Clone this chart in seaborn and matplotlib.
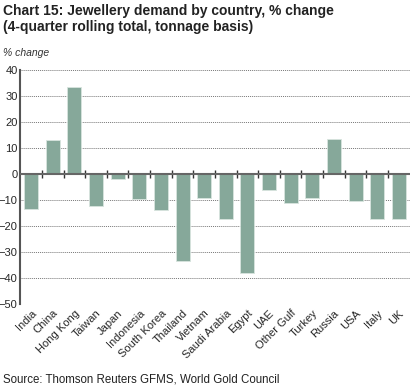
import numpy as np
import pandas as pd
import matplotlib
matplotlib.use('Agg')
import matplotlib.pyplot as plt
import seaborn as sns

countries = ['India', 'China', 'Hong Kong', 'Taiwan', 'Japan', 'Indonesia',
             'South Korea', 'Thailand', 'Vietnam', 'Saudi Arabia', 'Egypt',
             'UAE', 'Other Gulf', 'Turkey', 'Russia', 'USA', 'Italy', 'UK']
pct_change = [-13.5, 13.0, 33.3, -12.2, -2.0, -9.5, -14.0, -33.6, -9.4,
              -17.3, -38.2, -6.0, -11.2, -9.4, 13.6, -10.6, -17.3, -17.3]
yticks = list(range(-50, 41, 10))

df = pd.DataFrame({'country': countries, 'change': pct_change})

sns.set_style('white')
plt.rcParams['font.family'] = ['Liberation Sans', 'DejaVu Sans']

fig = plt.figure(figsize=(4.15, 3.89), dpi=100)
ax = fig.add_axes([0.049, 0.219, 0.938, 0.601])

sns.barplot(data=df, x='country', y='change', color='#86a89a', saturation=1,
            width=0.65, edgecolor='#d8e4de', linewidth=0.6, ax=ax, zorder=3)

n = len(countries)
ax.set_xlim(-0.5, n - 0.5)
ax.set_ylim(-50, 40)
ax.set_yticks(yticks)
for v in yticks:
    if v != 0:
        ax.axhline(v, color='#777777', linestyle=(0, (1, 1)), linewidth=0.7, zorder=1)
ax.axhline(0, color='#666666', linewidth=1.5, zorder=4)
ax.vlines(np.arange(1, n) - 0.5, -1.5, 1.5, color='#333333', linewidth=1.0, zorder=2)

for s in ['top', 'right', 'bottom']:
    ax.spines[s].set_visible(False)
ax.spines['left'].set_color('#555555')
ax.spines['left'].set_linewidth(1.5)

ax.set_xlabel('')
ax.set_ylabel('')
ax.tick_params(axis='y', length=0, pad=2, labelsize=8)
ax.tick_params(axis='x', length=0, pad=3, labelsize=8)
plt.setp(ax.get_xticklabels(), rotation=45, ha='right', va='top', rotation_mode='anchor')

fig.text(0.008, 0.99, 'Chart 15: Jewellery demand by country, % change\n(4-quarter rolling total, tonnage basis)',
         fontsize=10, fontweight='bold', va='top', ha='left', color='#222222', linespacing=1.2)
fig.text(0.008, 0.864, '% change', fontsize=7.5, style='italic', va='center', ha='left', color='#333333')
fig.text(0.008, 0.025, 'Source: Thomson Reuters GFMS, World Gold Council', fontsize=8.3,
         va='center', ha='left', color='#222222')

plt.savefig('out.png', dpi=100)
